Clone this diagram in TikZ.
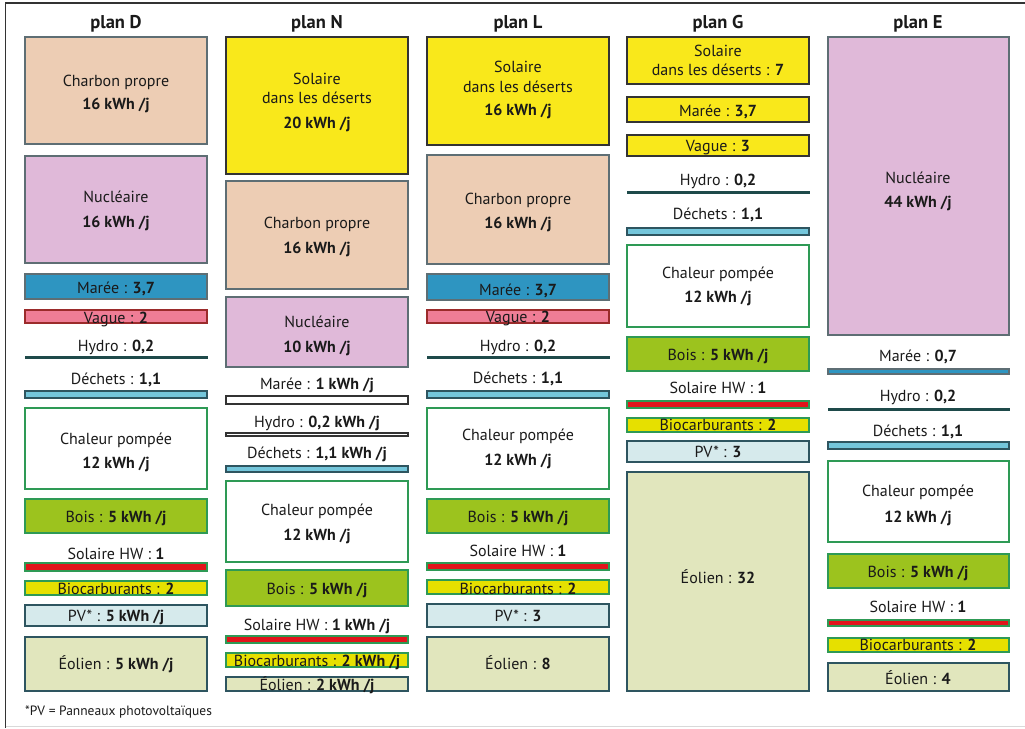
\documentclass[tikz,border=0pt]{standalone}
\usepackage{fontspec}
\setmainfont{PT Sans}
\definecolor{peach}{HTML}{EDCDB4}
\definecolor{lilac}{HTML}{E0B9D9}
\definecolor{bgray}{HTML}{5E6E74}
\definecolor{solyel}{HTML}{F9E81B}
\definecolor{mblue}{HTML}{2E95C1}
\definecolor{vpink}{HTML}{EF7D96}
\definecolor{vred}{HTML}{9B2B2B}
\definecolor{hteal}{HTML}{1E4A4A}
\definecolor{dcyan}{HTML}{74C6DB}
\definecolor{dteal}{HTML}{2E5560}
\definecolor{gborder}{HTML}{2E9A55}
\definecolor{boisg}{HTML}{9CC31E}
\definecolor{hwred}{HTML}{E1151B}
\definecolor{bioy}{HTML}{E6E000}
\definecolor{pvb}{HTML}{D6EAEC}
\definecolor{eolg}{HTML}{E1E6BD}
\definecolor{txt}{HTML}{1A1A1A}
\definecolor{dark}{HTML}{333333}
\tikzset{
  lbl/.style={font=\fontsize{16}{19}\selectfont, text=txt, inner sep=0pt, anchor=base, yshift=-5.7pt},
  hdr/.style={font=\fontsize{18.5}{21}\selectfont\bfseries, text=txt, inner sep=0pt, anchor=base, yshift=-6pt},
  foot/.style={font=\fontsize{13.5}{16}\selectfont, text=txt, inner sep=0pt, anchor=base west, yshift=-4.8pt},
  bx/.style={line width=1.1pt},
  peachbox/.style={bx, fill=peach, draw=bgray},
  lilacbox/.style={bx, fill=lilac, draw=bgray},
  solbox/.style={bx, fill=solyel, draw=dark},
  bluebox/.style={bx, fill=mblue, draw=bgray},
  vaguebox/.style={bx, fill=vpink, draw=vred},
  hydrobox/.style={line width=0.6pt, fill=hteal, draw=hteal},
  dechbox/.style={bx, fill=dcyan, draw=dteal},
  chalbox/.style={bx, fill=white, draw=gborder},
  boisbox/.style={bx, fill=boisg, draw=gborder},
  redbox/.style={bx, fill=hwred, draw=gborder},
  biobox/.style={bx, fill=bioy, draw=gborder},
  pvbox/.style={bx, fill=pvb, draw=dteal},
  eolbox/.style={bx, fill=eolg, draw=dteal},
  whitebar/.style={bx, fill=white, draw=dark}
}
\newcommand\bx[5]{\path[#1] (#2,#3) rectangle (#4,#5);}
\newcommand\tx[4]{\node[lbl] (#1) at (#2,#3) {#4};}
\begin{document}
\begin{tikzpicture}[x=1pt,y=-1pt]
\useasboundingbox (0,0) rectangle (1025,728);
% frame
\draw[dark, line width=1.5pt] (1025,3) -- (5.5,3) -- (5.5,728);
\draw[black!15, line width=1pt] (5.5,726.5) -- (1025,726.5);
% headers
\node[hdr] (hD) at (116,22) {plan D};
\node[hdr] (hN) at (317,22) {plan N};
\node[hdr] (hL) at (518,22) {plan L};
\node[hdr] (hG) at (718,22) {plan G};
\node[hdr] (hE) at (918,22) {plan E};
% ===== plan D =====
\bx{peachbox}{25}{37}{207}{144}
\tx{d1}{116}{81}{Charbon propre}
\tx{d2}{116}{104}{\textbf{16 kWh /j}}
\bx{lilacbox}{25}{156}{207}{263}
\tx{d3}{116}{197}{Nucléaire}
\tx{d4}{116}{222}{\textbf{16 kWh /j}}
\bx{bluebox}{25}{274}{207}{299}
\tx{d5}{116}{288}{Marée : \textbf{3,7}}
\bx{vaguebox}{25}{310}{207}{323}
\tx{d6}{116}{318}{Vague : \textbf{2}}
\tx{d7}{116}{346}{Hydro : \textbf{0,2}}
\bx{hydrobox}{25}{356}{207}{358}
\tx{d8}{116}{379}{Déchets : \textbf{1,1}}
\bx{dechbox}{25}{391}{207}{398}
\bx{chalbox}{25}{408}{207}{489}
\tx{d9}{116}{439}{Chaleur pompée}
\tx{d10}{116}{463}{\textbf{12 kWh /j}}
\bx{boisbox}{25}{499}{207}{533}
\tx{d11}{116}{517}{Bois : \textbf{5 kWh /j}}
\tx{d12}{116}{554}{Solaire HW : \textbf{1}}
\bx{redbox}{25}{563}{207}{571}
\bx{biobox}{25}{581}{207}{595}
\tx{d13}{116}{589}{Biocarburants : \textbf{2}}
\bx{pvbox}{25}{605}{207}{626}
\tx{d14}{116}{616}{PV* : \textbf{5 kWh /j}}
\bx{eolbox}{25}{637}{207}{691}
\tx{d15}{116}{664}{Éolien : \textbf{5 kWh /j}}
% ===== plan N =====
\bx{solbox}{226}{37}{408}{174}
\tx{n1}{317}{79}{Solaire}
\tx{n2}{317}{98}{dans les déserts}
\tx{n3}{317}{123}{\textbf{20 kWh /j}}
\bx{peachbox}{226}{181}{408}{289}
\tx{n4}{317}{223}{Charbon propre}
\tx{n5}{317}{248}{\textbf{16 kWh /j}}
\bx{lilacbox}{226}{297}{408}{367}
\tx{n6}{317}{322}{Nucléaire}
\tx{n7}{317}{347}{\textbf{10 kWh /j}}
\tx{n8}{317}{384}{Marée : \textbf{1 kWh /j}}
\bx{whitebar}{226}{396}{408}{404}
\tx{n9}{317}{422}{Hydro : \textbf{0,2 kWh /j}}
\bx{whitebar}{226}{433}{408}{436}
\tx{n10}{317}{453}{Déchets : \textbf{1,1 kWh /j}}
\bx{dechbox}{226}{466}{408}{472}
\bx{chalbox}{226}{481}{408}{562}
\tx{n11}{317}{510}{Chaleur pompée}
\tx{n12}{317}{535}{\textbf{12 kWh /j}}
\bx{boisbox}{226}{570}{408}{606}
\tx{n13}{317}{589}{Bois : \textbf{5 kWh /j}}
\tx{n14}{317}{625}{Solaire HW : \textbf{1 kWh /j}}
\bx{redbox}{226}{636}{408}{643}
\bx{biobox}{226}{653}{408}{667}
\tx{n15}{317}{661}{Biocarburants : \textbf{2 kWh /j}}
\bx{eolbox}{226}{677}{408}{691}
\tx{n16}{317}{685}{Éolien : \textbf{2 kWh /j}}
% ===== plan L =====
\bx{solbox}{427}{37}{609}{145}
\tx{l1}{518}{67}{Solaire}
\tx{l2}{518}{87}{dans les déserts}
\tx{l3}{518}{110}{\textbf{16 kWh /j}}
\bx{peachbox}{427}{155}{609}{264}
\tx{l4}{518}{199}{Charbon propre}
\tx{l5}{518}{223}{\textbf{16 kWh /j}}
\bx{bluebox}{427}{274}{609}{300}
\tx{l6}{518}{290}{Marée : \textbf{3,7}}
\bx{vaguebox}{427}{310}{609}{323}
\tx{l7}{518}{317}{Vague : \textbf{2}}
\tx{l8}{518}{346}{Hydro : \textbf{0,2}}
\bx{hydrobox}{427}{356.5}{609}{358}
\tx{l9}{518}{378}{Déchets : \textbf{1,1}}
\bx{dechbox}{427}{391}{609}{398}
\bx{chalbox}{427}{408}{609}{489}
\tx{l10}{518}{435}{Chaleur pompée}
\tx{l11}{518}{460}{\textbf{12 kWh /j}}
\bx{boisbox}{427}{499}{609}{533}
\tx{l12}{518}{517}{Bois : \textbf{5 kWh /j}}
\tx{l13}{518}{551}{Solaire HW : \textbf{1}}
\bx{redbox}{427}{563}{609}{570}
\bx{biobox}{427}{580}{609}{594}
\tx{l14}{518}{589}{Biocarburants : \textbf{2}}
\bx{pvbox}{427}{604}{609}{627}
\tx{l15}{518}{616}{PV* : \textbf{3}}
\bx{eolbox}{427}{637}{609}{691}
\tx{l16}{518}{664}{Éolien : \textbf{8}}
% ===== plan G =====
\bx{solbox}{627}{37}{809}{84}
\tx{g1}{718}{51}{Solaire}
\tx{g2}{718}{70}{dans les déserts : \textbf{7}}
\bx{solbox}{627}{97}{809}{122}
\tx{g3}{718}{111}{Marée : \textbf{3,7}}
\bx{solbox}{627}{135}{809}{156}
\tx{g4}{718}{146}{Vague : \textbf{3}}
\tx{g5}{718}{180}{Hydro : \textbf{0,2}}
\bx{hydrobox}{627}{191}{809}{193}
\tx{g6}{718}{214}{Déchets : \textbf{1,1}}
\bx{dechbox}{627}{228}{809}{235}
\bx{chalbox}{627}{245}{809}{327}
\tx{g7}{718}{273}{Chaleur pompée}
\tx{g8}{718}{297}{\textbf{12 kWh /j}}
\bx{boisbox}{627}{337}{809}{371}
\tx{g9}{718}{355}{Bois : \textbf{5 kWh /j}}
\tx{g10}{718}{388}{Solaire HW : \textbf{1}}
\bx{redbox}{627}{401}{809}{408}
\bx{biobox}{627}{418}{809}{432}
\tx{g11}{718}{425}{Biocarburants : \textbf{2}}
\bx{pvbox}{627}{441}{809}{462}
\tx{g12}{718}{452}{PV* : \textbf{3}}
\bx{eolbox}{627}{472}{809}{691}
\tx{g13}{718}{578}{Éolien : \textbf{32}}
% ===== plan E =====
\bx{lilacbox}{828}{37}{1009}{335}
\tx{e1}{918}{178}{Nucléaire}
\tx{e2}{918}{202}{\textbf{44 kWh /j}}
\tx{e3}{918}{356}{Marée : \textbf{0,7}}
\bx{bluebox}{828}{369}{1009}{374}
\tx{e4}{918}{396}{Hydro : \textbf{0,2}}
\bx{hydrobox}{828}{408}{1009}{410}
\tx{e5}{918}{431}{Déchets : \textbf{1,1}}
\bx{dechbox}{828}{442}{1009}{449}
\bx{chalbox}{828}{461}{1009}{542}
\tx{e6}{918}{491}{Chaleur pompée}
\tx{e7}{918}{517}{\textbf{12 kWh /j}}
\bx{boisbox}{828}{554}{1009}{588}
\tx{e8}{918}{572}{Bois : \textbf{5 kWh /j}}
\tx{e9}{918}{607}{Solaire HW : \textbf{1}}
\bx{redbox}{828}{620}{1009}{626}
\bx{biobox}{828}{638}{1009}{652}
\tx{e10}{918}{645}{Biocarburants : \textbf{2}}
\bx{eolbox}{828}{663}{1009}{691}
\tx{e11}{918}{679}{Éolien : \textbf{4}}
% footnote
\node[foot] (fn) at (25,711) {*PV = Panneaux photovoltaïques};
\end{tikzpicture}
\end{document}
